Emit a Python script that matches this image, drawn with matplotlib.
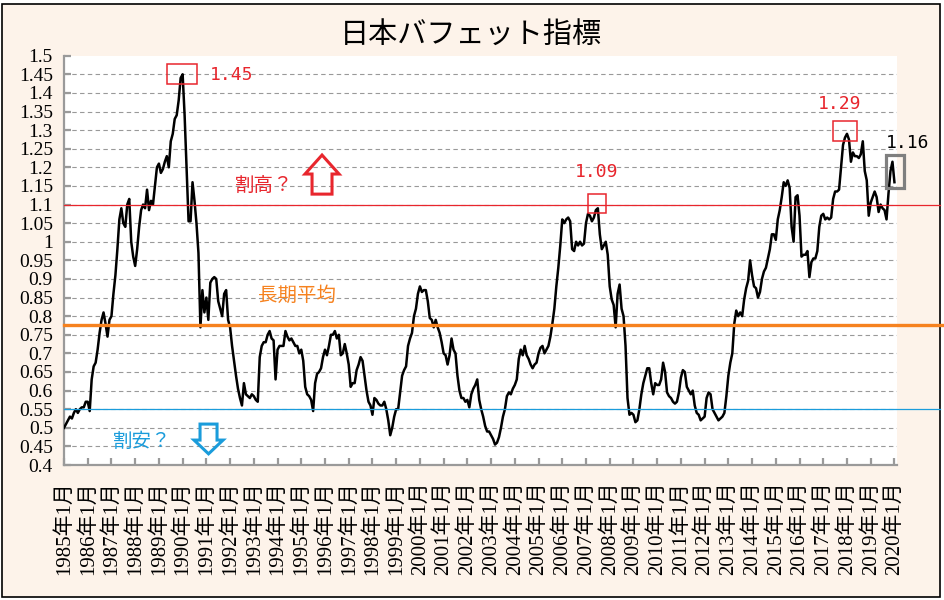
import matplotlib
matplotlib.use("Agg")
import matplotlib.pyplot as plt
from matplotlib.patches import Rectangle, Polygon
from matplotlib.transforms import ScaledTranslation
import numpy as np

# --- Data: Japan "Buffett indicator", monthly Jan 1985 - Jan 2020 ---
vals_1985_1989 = [
    0.50, 0.51, 0.52, 0.53, 0.525, 0.54, 0.55, 0.54, 0.55, 0.555, 0.555, 0.57,    # 1985
    0.57, 0.545, 0.63, 0.665, 0.675, 0.71, 0.755, 0.79, 0.81, 0.78, 0.745, 0.79,  # 1986
    0.80, 0.86, 0.91, 0.98, 1.06, 1.09, 1.05, 1.04, 1.10, 1.115, 1.00, 0.96,     # 1987
    0.935, 0.98, 1.04, 1.085, 1.10, 1.09, 1.14, 1.085, 1.11, 1.10, 1.15, 1.20,   # 1988
    1.21, 1.185, 1.195, 1.215, 1.23, 1.20, 1.27, 1.29, 1.33, 1.34, 1.38, 1.44,   # 1989
]
vals_1990_1994 = [
    1.45, 1.34, 1.20, 1.055, 1.055, 1.16, 1.11, 1.05, 0.97, 0.77, 0.87, 0.81,    # 1990
    0.85, 0.79, 0.89, 0.90, 0.905, 0.90, 0.84, 0.82, 0.80, 0.86, 0.87, 0.79,     # 1991
    0.77, 0.72, 0.68, 0.64, 0.605, 0.58, 0.56, 0.62, 0.59, 0.585, 0.58, 0.59,    # 1992
    0.585, 0.575, 0.57, 0.69, 0.72, 0.73, 0.73, 0.75, 0.76, 0.74, 0.735, 0.63,   # 1993
    0.71, 0.72, 0.72, 0.72, 0.76, 0.745, 0.735, 0.74, 0.73, 0.72, 0.72, 0.70,    # 1994
]
vals_1995_1999 = [
    0.71, 0.68, 0.61, 0.59, 0.585, 0.575, 0.545, 0.62, 0.645, 0.65, 0.66, 0.69,  # 1995
    0.71, 0.695, 0.72, 0.75, 0.75, 0.76, 0.74, 0.75, 0.695, 0.70, 0.725, 0.70,   # 1996
    0.67, 0.61, 0.62, 0.62, 0.655, 0.67, 0.69, 0.68, 0.64, 0.60, 0.57, 0.56,     # 1997
    0.535, 0.58, 0.575, 0.565, 0.56, 0.56, 0.57, 0.55, 0.52, 0.48, 0.50, 0.53,   # 1998
    0.55, 0.55, 0.595, 0.64, 0.655, 0.665, 0.72, 0.74, 0.755, 0.80, 0.82, 0.86,  # 1999
]
vals_2000_2004 = [
    0.88, 0.865, 0.87, 0.87, 0.84, 0.795, 0.79, 0.77, 0.79, 0.77, 0.755, 0.73,   # 2000
    0.70, 0.695, 0.67, 0.695, 0.74, 0.71, 0.70, 0.64, 0.60, 0.58, 0.58, 0.57,    # 2001
    0.575, 0.555, 0.59, 0.605, 0.615, 0.63, 0.575, 0.55, 0.53, 0.505, 0.49, 0.49,  # 2002
    0.48, 0.47, 0.455, 0.46, 0.475, 0.50, 0.53, 0.55, 0.585, 0.595, 0.59, 0.605,   # 2003
    0.615, 0.63, 0.685, 0.71, 0.695, 0.72, 0.695, 0.685, 0.67, 0.66, 0.67, 0.675,  # 2004
]
vals_2005_2009 = [
    0.70, 0.715, 0.72, 0.70, 0.71, 0.72, 0.745, 0.78, 0.82, 0.88, 0.93, 0.99,    # 2005
    1.06, 1.05, 1.06, 1.065, 1.055, 0.98, 0.975, 1.00, 0.99, 1.00, 0.99, 0.995,  # 2006
    1.05, 1.075, 1.07, 1.055, 1.065, 1.085, 1.09, 1.02, 0.98, 0.99, 1.00, 0.965,  # 2007
    0.88, 0.845, 0.83, 0.77, 0.86, 0.885, 0.82, 0.80, 0.72, 0.58, 0.535, 0.54,   # 2008
    0.535, 0.515, 0.52, 0.55, 0.59, 0.62, 0.64, 0.66, 0.66, 0.62, 0.59, 0.62,    # 2009
]
vals_2010_2014 = [
    0.615, 0.615, 0.63, 0.675, 0.65, 0.595, 0.585, 0.58, 0.57, 0.565, 0.57, 0.595,  # 2010
    0.635, 0.655, 0.65, 0.61, 0.60, 0.59, 0.60, 0.56, 0.54, 0.535, 0.52, 0.525,   # 2011
    0.53, 0.58, 0.595, 0.59, 0.55, 0.54, 0.53, 0.52, 0.525, 0.53, 0.54, 0.585,    # 2012
    0.64, 0.675, 0.70, 0.78, 0.815, 0.80, 0.81, 0.80, 0.845, 0.875, 0.895, 0.95,  # 2013
    0.91, 0.88, 0.875, 0.85, 0.865, 0.90, 0.92, 0.93, 0.955, 0.98, 1.02, 1.02,    # 2014
]
vals_2015_2020 = [
    1.005, 1.06, 1.085, 1.12, 1.16, 1.15, 1.165, 1.145, 1.04, 1.00, 1.12, 1.125,  # 2015
    1.07, 0.96, 0.965, 0.965, 0.975, 0.905, 0.945, 0.955, 0.955, 0.975, 1.04, 1.07,  # 2016
    1.075, 1.06, 1.065, 1.06, 1.065, 1.115, 1.135, 1.135, 1.14, 1.20, 1.26, 1.28,  # 2017
    1.29, 1.275, 1.215, 1.24, 1.23, 1.23, 1.225, 1.235, 1.27, 1.19, 1.165, 1.07,   # 2018
    1.105, 1.12, 1.135, 1.12, 1.08, 1.10, 1.09, 1.085, 1.06, 1.13, 1.19, 1.215,    # 2019
    1.16,                                                                           # 2020
]

years = list(range(1985, 2021))
tick_labels = [f"{y}年1月" for y in years]
y_ticks = np.round(np.arange(0.40, 1.501, 0.05), 2)

UPPER = 1.1      # 割高 line
AVERAGE = 0.775  # 長期平均
LOWER = 0.55     # 割安 line

# --- Styles ---
BG = "#FDF3EA"
RED = "#E8262D"
ORANGE = "#F6821F"
BLUE = "#1A9CDB"
GRAY = "#9a9a9a"
CJK = ["Noto Sans CJK JP", "DejaVu Sans"]
SERIF_CJK = ["Liberation Serif", "Noto Sans CJK JP"]
MONO = "DejaVu Sans Mono"

values = np.array(vals_1985_1989 + vals_1990_1994 + vals_1995_1999 + vals_2000_2004
                  + vals_2005_2009 + vals_2010_2014 + vals_2015_2020)
months = np.arange(len(values))

W, H = 945, 600
fig = plt.figure(figsize=(W / 100, H / 100), dpi=100)
fig.patch.set_facecolor("white")
fig.add_artist(Rectangle((2.5 / W, 3.5 / H), 938 / W, 593 / H, transform=fig.transFigure,
                         facecolor=BG, edgecolor="black", lw=1.2, zorder=-10))

ax = fig.add_axes([64 / W, 1 - 465 / H, (897 - 64) / W, (465 - 55.7) / H])
ax.set_facecolor("white")

ax.plot(months, values, color="black", lw=1.8, zorder=5)

ax.set_xlim(0, 421.3)
ax.set_ylim(0.4, 1.5)

ax.set_yticks(y_ticks)
ax.set_yticklabels([f"{t:g}" for t in y_ticks], family="Liberation Serif", fontsize=14)
ax.set_xticks(np.arange(0, len(years) * 12, 12))
ax.set_xticklabels(tick_labels, rotation=90, family=SERIF_CJK, fontsize=15)

offset = ScaledTranslation(-0.04, 0, fig.dpi_scale_trans)
for lbl in ax.get_xticklabels():
    lbl.set_transform(lbl.get_transform() + offset)

for side in ("top", "right"):
    ax.spines[side].set_visible(False)
for side in ("left", "bottom"):
    ax.spines[side].set_color(GRAY)
    ax.spines[side].set_linewidth(1.6)

ax.tick_params(axis="x", direction="in", length=5, width=1.6, color=GRAY, pad=12)
ax.tick_params(axis="y", direction="in", length=5, width=1.6, color=GRAY, pad=8)

ax.grid(axis="y", color="#999999", ls=(0, (4, 3)), lw=0.8, zorder=1)
ax.set_axisbelow(True)
ax.yaxis.get_gridlines()[-1].set_visible(False)

# reference lines (run past the plot area to the right edge)
ext = (940 - 64) / (897 - 64)
ax.axhline(UPPER, xmax=ext, color=RED, lw=0.9, clip_on=False, zorder=6)
ax.axhline(AVERAGE, xmax=(944 - 64) / (897 - 64), color=ORANGE, lw=2.4, clip_on=False, zorder=6)
ax.axhline(LOWER, xmax=ext, color=BLUE, lw=0.9, clip_on=False, zorder=6)


def hollow_arrow(ax, xc, y_tail, y_base, y_tip, shaft_w, head_w, color):
    pts = [(xc - shaft_w / 2, y_tail), (xc - shaft_w / 2, y_base), (xc - head_w / 2, y_base),
           (xc, y_tip), (xc + head_w / 2, y_base), (xc + shaft_w / 2, y_base),
           (xc + shaft_w / 2, y_tail)]
    ax.add_patch(Polygon(pts, closed=True, fill=False, edgecolor=color, lw=2.2,
                         joinstyle="miter", zorder=7))


hollow_arrow(ax, 130.5, 1.128, 1.182, 1.233, 10.1, 17.2, RED)
hollow_arrow(ax, 73.1, 0.510, 0.467, 0.430, 8.6, 14.7, BLUE)

ax.text(86.5, 1.15, "割高？", color=RED, fontsize=14, family=CJK, va="center", ha="left")
ax.text(98.1, 0.857, "長期平均", color=ORANGE, fontsize=14, family=CJK, va="center", ha="left")
ax.text(24.8, 0.4645, "割安？", color=BLUE, fontsize=14, family=CJK, va="center", ha="left")

# peak markers
ax.add_patch(Rectangle((52.1, 1.424), 15.2, 0.054, fill=False, ec=RED, lw=1.1, zorder=7))
ax.text(73.8, 1.448, "1.45", color=RED, fontsize=13, family=MONO, va="center", ha="left")

ax.add_patch(Rectangle((265.0, 1.077), 9.2, 0.051, fill=False, ec=RED, lw=1.1, zorder=7))
ax.text(258.5, 1.188, "1.09", color=RED, fontsize=13, family=MONO, va="center", ha="left")

ax.add_patch(Rectangle((389.0, 1.271), 12.1, 0.054, fill=False, ec=RED, lw=1.1, zorder=7))
ax.text(381.4, 1.370, "1.29", color=RED, fontsize=13, family=MONO, va="center", ha="left")

ax.add_patch(Rectangle((415.8, 1.145), 9.1, 0.088, fill=False, ec="#7f7f7f", lw=2.3,
                       clip_on=False, zorder=7))
ax.text(415.8, 1.266, "1.16", color="black", fontsize=13, family=MONO, va="center", ha="left")

fig.text(0.498, 0.942, "日本バフェット指標", fontsize=21, family=CJK, ha="center", va="center")

fig.savefig("out.png", dpi=100, facecolor=fig.get_facecolor())
